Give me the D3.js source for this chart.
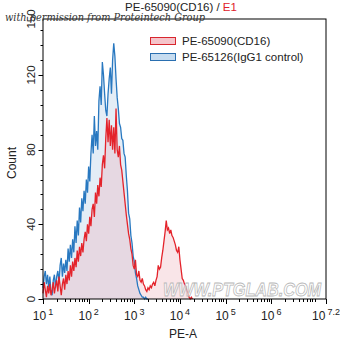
<!DOCTYPE html>
<html><head><meta charset="utf-8">
<script src="https://cdn.jsdelivr.net/npm/d3@7"></script>
<style>
html,body{margin:0;padding:0;background:#fff;}
svg{display:block;font-family:"Liberation Sans",Arial,sans-serif;}
</style></head>
<body><div id="chart"></div>
<script>
// ---- data ----
const titleMain = "PE-65090(CD16) / ";
const titleGate = "E1";
const seriesNames = ["PE-65090(CD16)", "PE-65126(IgG1 control)"];
const binLog0 = 1.0;      // log10 of first bin
const binStep = 0.025;    // bin width in decades
const cd16Counts = [3,9,5,1,7,3,8,2,5,9,3,7,10,4,12,7,2,8,11,5,13,8,15,10,18,12,20,15,22,17,26,20,28,23,30,25,32,36,31,40,
 35,44,39,48,51,44,57,51,61,55,65,60,72,77,70,86,97,84,96,82,93,80,92,78,102,80,76,82,72,69,63,57,51,45,40,35,32,27,24,18,16,21,13,12,15,10,9,11,
 8,7,5,4,6,5,7,6,8,9,7,10,12,18,16,17,22,26,31,36,42,37,38,35,37,34,33,31,29,26,25,28,21,16,11,10,8,7,5,3,1,0,1,0];
const iggCounts = [6,12,15,8,13,6,12,4,2,10,13,6,12,15,9,18,22,12,19,14,21,15,27,20,29,22,32,25,39,30,42,34,49,41,54,47,58,51,64,57,
 71,63,78,88,78,98,82,90,80,106,114,104,127,120,110,101,98,110,118,124,
 110,128,137,130,118,108,102,94,92,86,85,78,76,66,58,46,43,34,30,23,20,14,11,7,5,3,2,1,1,0,1,0,0];
const yTicksMajor = [0,40,80,120];
const yTopLabel = 150;
const yMinorStep = 8;
const xDecades = [1,2,3,4,5,6];
const xTopExp = 7.2;
const xLabel = "PE-A", yLabel = "Count";
const permissionText = "with permission from Proteintech Group";
const watermark = "WWW.PTGLAB.COM";

// ---- layout ----
const W = 340, H = 343;
const L = 43, R = 326, T = 19, B = 299;
const svg = d3.select("#chart").append("svg").attr("width", W).attr("height", H);

const x = d3.scaleLog().domain([10, Math.pow(10, xTopExp)]).range([L, R]);
const y = d3.scaleLinear().domain([0, yTopLabel]).range([B, T]);

const toPts = arr => arr.map((c, i) => ({v: Math.pow(10, binLog0 + i * binStep), c}));
const cd16 = toPts(cd16Counts), igg = toPts(iggCounts);

const area = d3.area().x(d => x(d.v)).y0(y(0)).y1(d => y(d.c));
const line = d3.line().x(d => x(d.v)).y(d => y(d.c));

const g = svg.append("g");
g.append("path").datum(igg).attr("d", area).attr("fill", "rgba(196,214,236,0.45)");
g.append("path").datum(cd16).attr("d", area).attr("fill", "rgba(236,168,180,0.30)");
g.append("path").datum(igg).attr("d", line).attr("fill", "none").attr("stroke", "#2878c0").attr("stroke-width", 1.3);
g.append("path").datum(cd16).attr("d", line).attr("fill", "none").attr("stroke", "#e4232b").attr("stroke-width", 1.3);

// watermark bottom
svg.append("text").attr("x", 163).attr("y", 296).text(watermark)
  .attr("font-size", 18).attr("font-style", "italic").attr("font-weight", "bold")
  .attr("textLength", 158).attr("lengthAdjust", "spacingAndGlyphs")
  .attr("fill", "rgba(255,255,255,0.6)").attr("stroke", "#b8b8b8").attr("stroke-width", 0.8);

// frame
svg.append("rect").attr("x", L).attr("y", T).attr("width", R - L).attr("height", B - T)
  .attr("fill", "none").attr("stroke", "#000").attr("stroke-width", 1);

// y axis ticks
const yMinor = d3.range(0, yTopLabel, yMinorStep);
svg.append("g").selectAll("line").data(yMinor).join("line")
  .attr("x1", L - 2.5).attr("x2", L).attr("y1", d => Math.round(y(d)) + 0.5).attr("y2", d => Math.round(y(d)) + 0.5)
  .attr("stroke", "#000");
svg.append("g").selectAll("line").data(yTicksMajor).join("line")
  .attr("x1", L - 4.5).attr("x2", L).attr("y1", d => Math.round(y(d)) + 0.5).attr("y2", d => Math.round(y(d)) + 0.5)
  .attr("stroke", "#000");
svg.append("g").selectAll("text").data(yTicksMajor.concat([yTopLabel])).join("text")
  .attr("transform", d => `translate(35,${y(d)}) rotate(-90)`)
  .attr("text-anchor", "middle").attr("font-size", 11.5).attr("fill", "#222").text(d => d);

// x axis ticks
const xMinor = [];
for (const e of [1,2,3,4,5,6,7]) for (let k = 2; k <= 9; k++) { const v = k * Math.pow(10, e); if (v < Math.pow(10, xTopExp)) xMinor.push(v); }
svg.append("g").selectAll("line").data(xMinor).join("line")
  .attr("x1", d => Math.round(x(d)) + 0.5).attr("x2", d => Math.round(x(d)) + 0.5).attr("y1", B).attr("y2", B + 3)
  .attr("stroke", "#000");
const xMajor = xDecades.map(e => Math.pow(10, e)).concat([Math.pow(10, xTopExp)]);
svg.append("g").selectAll("line").data(xMajor).join("line")
  .attr("x1", d => Math.round(x(d)) + 0.5).attr("x2", d => Math.round(x(d)) + 0.5).attr("y1", B).attr("y2", B + 5)
  .attr("stroke", "#000");
const xl = svg.append("g").selectAll("text").data(xDecades.concat([xTopExp])).join("text")
  .attr("x", d => x(Math.pow(10, d))).attr("y", 320).attr("text-anchor", "middle")
  .attr("font-size", 12).attr("fill", "#222");
xl.append("tspan").text("10");
xl.append("tspan").attr("dx", 2).attr("dy", -5).attr("font-size", 9).text(d => d);

// axis titles
svg.append("text").attr("x", 183).attr("y", 338).attr("text-anchor", "middle").attr("font-size", 12).attr("fill", "#222").text(xLabel);
svg.append("text").attr("transform", "translate(16,163) rotate(-90)").attr("text-anchor", "middle").attr("font-size", 12).attr("fill", "#222").text(yLabel);

// title
const tt = svg.append("text").attr("x", 181).attr("y", 11).attr("text-anchor", "middle").attr("font-size", 11.5).attr("fill", "#222");
tt.append("tspan").text(titleMain);
tt.append("tspan").attr("fill", "#e0202a").text(titleGate);

// legend
const lg = svg.append("g");
const legCol = [{f: "#f5c4ca", s: "#d8262e"}, {f: "#c6dcf0", s: "#2a6fb0"}];
seriesNames.forEach((n, i) => {
  lg.append("rect").attr("x", 150.5).attr("y", 37.5 + i * 16).attr("width", 25).attr("height", 7)
    .attr("fill", legCol[i].f).attr("stroke", legCol[i].s).attr("stroke-width", 1);
  lg.append("text").attr("x", 182).attr("y", 45 + i * 15.5).attr("font-size", 11.5).attr("fill", "#222").text(n);
});

// permission overlay
svg.append("text").attr("x", 5).attr("y", 21).text(permissionText)
  .attr("font-family", "'DejaVu Serif','Liberation Serif',serif").attr("font-style", "italic")
  .attr("font-size", 11.5).attr("textLength", 200).attr("lengthAdjust", "spacingAndGlyphs").attr("fill", "#333");
</script></body></html>
